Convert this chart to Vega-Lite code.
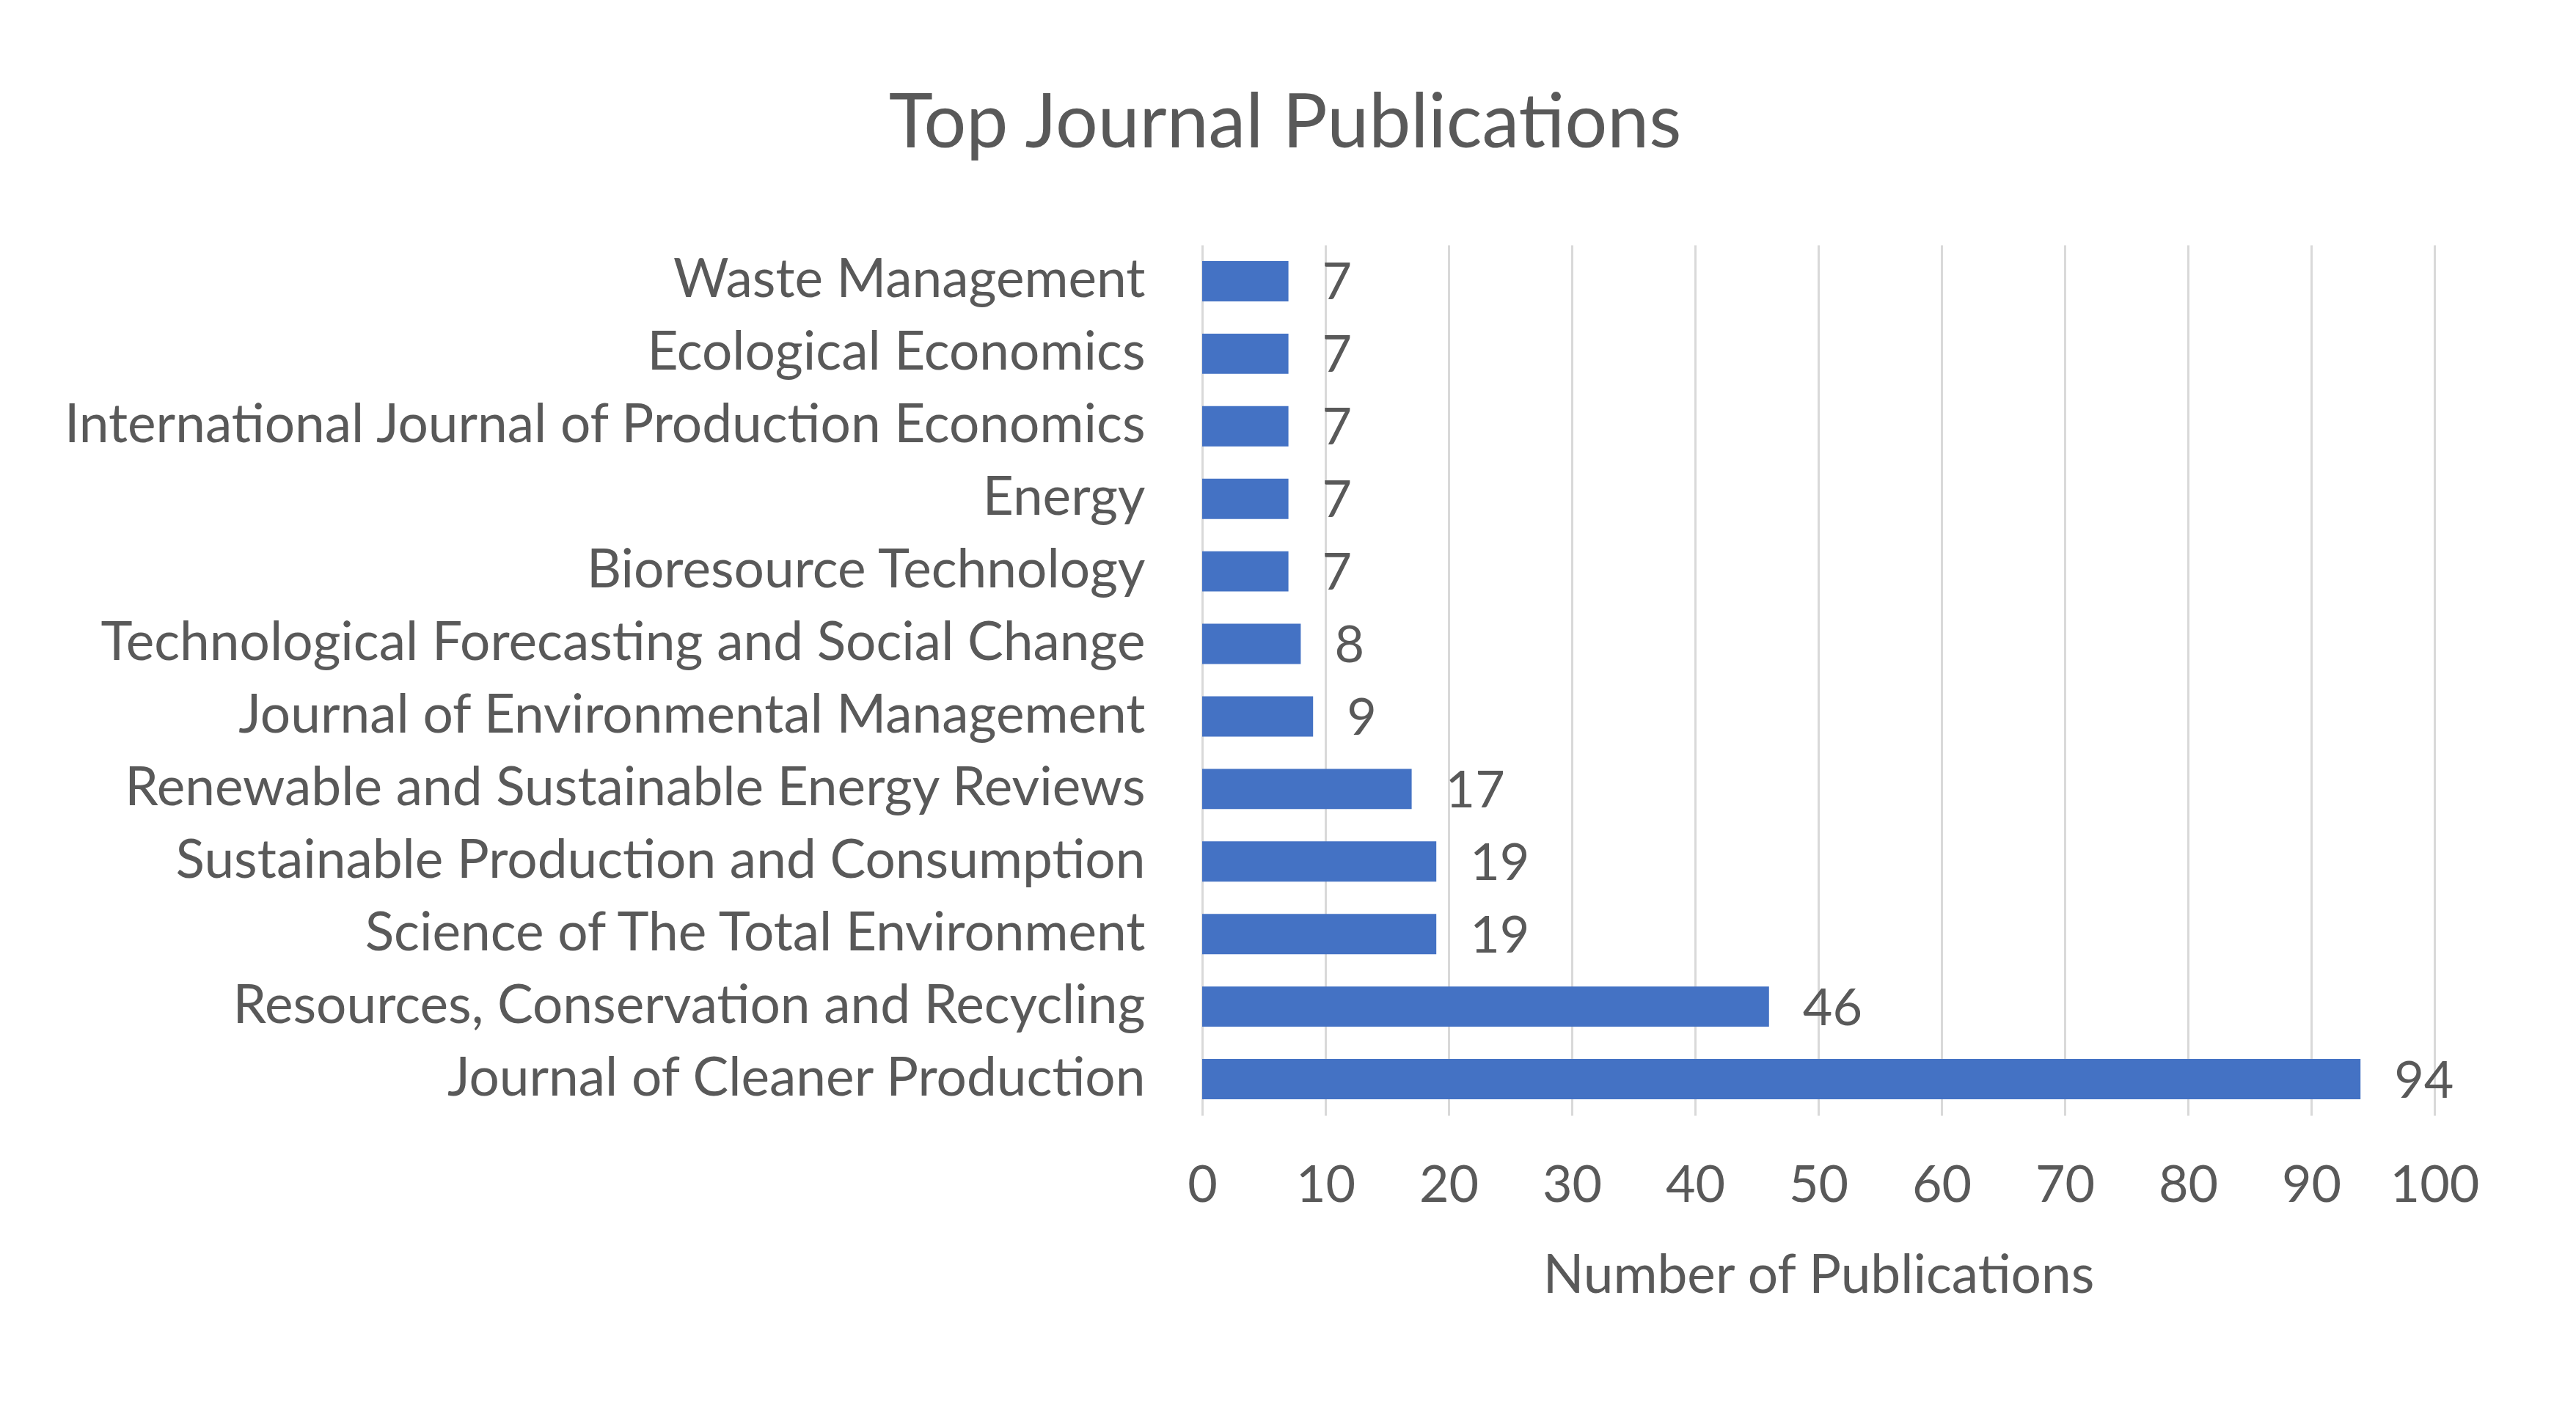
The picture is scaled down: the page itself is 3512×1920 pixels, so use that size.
{
  "$schema": "https://vega.github.io/schema/vega-lite/v6.json",
  "width": 1680,
  "height": 1187,
  "autosize": {"type": "none"},
  "padding": {"left": 1639, "top": 334, "right": 193, "bottom": 399},
  "background": "white",
  "title": {
    "text": "Top Journal Publications",
    "font": "Lato",
    "fontSize": 102,
    "fontWeight": "normal",
    "color": "#595959",
    "anchor": "middle",
    "frame": "group",
    "dx": -727,
    "offset": 112
  },
  "data": {
    "values": [
      {"journal": "Waste Management", "count": 7},
      {"journal": "Ecological Economics", "count": 7},
      {"journal": "International Journal of Production Economics", "count": 7},
      {"journal": "Energy", "count": 7},
      {"journal": "Bioresource Technology", "count": 7},
      {"journal": "Technological Forecasting and Social Change", "count": 8},
      {"journal": "Journal of Environmental Management", "count": 9},
      {"journal": "Renewable and Sustainable Energy Reviews", "count": 17},
      {"journal": "Sustainable Production and Consumption", "count": 19},
      {"journal": "Science of The Total Environment", "count": 19},
      {"journal": "Resources, Conservation and Recycling", "count": 46},
      {"journal": "Journal of Cleaner Production", "count": 94}
    ]
  },
  "encoding": {
    "y": {
      "field": "journal",
      "type": "nominal",
      "sort": null,
      "scale": {"paddingInner": 0.444, "paddingOuter": 0.222},
      "axis": {
        "title": null,
        "domain": false,
        "ticks": false,
        "grid": false,
        "labelFont": "Lato",
        "labelFontSize": 73,
        "labelColor": "#595959",
        "labelPadding": 78,
        "labelLimit": 0
      }
    },
    "x": {
      "field": "count",
      "type": "quantitative",
      "scale": {"domain": [0, 100], "nice": false},
      "axis": {
        "title": "Number of Publications",
        "titleFont": "Lato",
        "titleFontSize": 73,
        "titleFontWeight": "normal",
        "titleColor": "#595959",
        "titlePadding": 52,
        "values": [0, 10, 20, 30, 40, 50, 60, 70, 80, 90, 100],
        "domain": false,
        "ticks": false,
        "grid": true,
        "gridColor": "#D9D9D9",
        "gridWidth": 3,
        "labelFont": "Lato",
        "labelFontSize": 70,
        "labelColor": "#595959",
        "labelPadding": 62,
        "labelFlush": false
      }
    }
  },
  "layer": [
    {"mark": {"type": "bar", "color": "#4472C4"}},
    {
      "mark": {"type": "text", "align": "left", "baseline": "middle", "dx": 46, "dy": 4, "font": "Lato", "fontSize": 70, "color": "#595959"},
      "encoding": {"text": {"field": "count", "type": "quantitative"}}
    }
  ],
  "config": {"view": {"stroke": null}}
}
